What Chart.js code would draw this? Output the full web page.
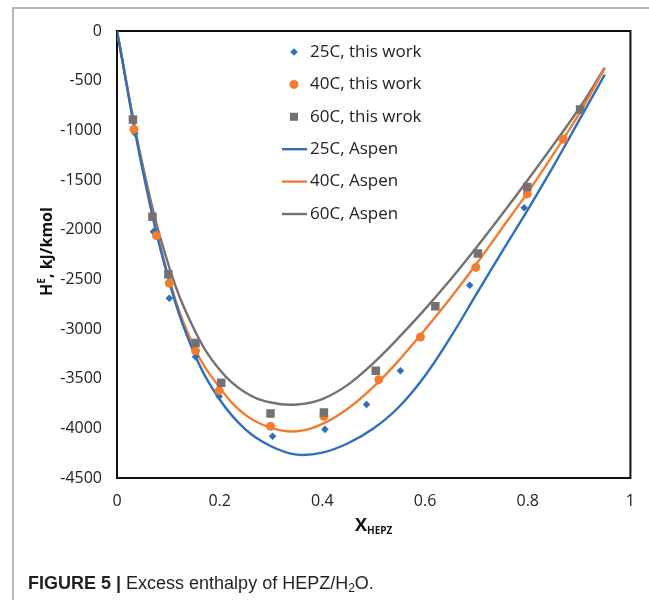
<!DOCTYPE html>
<html>
<head>
<meta charset="utf-8">
<style>
  html, body { margin: 0; padding: 0; background: #fff; }
  body { width: 649px; height: 600px; overflow: hidden; position: relative; }
  #wrap { position: absolute; left: 0; top: 0; width: 649px; height: 600px; }
  #caption { position: absolute; left: 28px; top: 573px; font-family: "Liberation Sans", Arial, sans-serif; font-size: 18px; color: #231f20; white-space: nowrap; }
  #caption b { font-weight: bold; }
  #caption sub { font-size: 12px; vertical-align: -3px; }
</style>
</head>
<body>
<div id="wrap"><canvas id="heChart" width="649" height="600"></canvas></div>
<div id="caption"><b>FIGURE 5 | </b>Excess enthalpy of HEPZ/H<sub>2</sub>O.</div>

<script src="https://cdn.jsdelivr.net/npm/chart.js"></script>
<script>
// measured points (this work)
var x25 = [0.035, 0.071, 0.102, 0.153, 0.199, 0.303, 0.405, 0.486, 0.552, 0.687, 0.793, 0.905];
var h25 = [-1030, -2020, -2690, -3280, -3680, -4080, -4010, -3760, -3420, -2560, -1780, -800];
var x40 = [0.033, 0.077, 0.102, 0.153, 0.199, 0.299, 0.403, 0.510, 0.591, 0.699, 0.799, 0.869];
var h40 = [-990, -2060, -2540, -3220, -3620, -3980, -3880, -3510, -3080, -2380, -1640, -1090];
var x60 = [0.031, 0.069, 0.100, 0.153, 0.203, 0.299, 0.403, 0.504, 0.620, 0.703, 0.799, 0.902];
var h60 = [-890, -1870, -2450, -3140, -3540, -3850, -3840, -3420, -2770, -2240, -1570, -790];

// Aspen curves
var xAspen = [0, 0.05, 0.1, 0.15, 0.2, 0.25, 0.3, 0.35, 0.4, 0.45, 0.5, 0.55, 0.6, 0.65, 0.7, 0.75, 0.8, 0.85, 0.9, 0.95];
var hAspen25 = [0, -1400, -2490, -3240, -3710, -4010, -4180, -4265, -4245, -4150, -4000, -3780, -3470, -3080, -2650, -2220, -1800, -1360, -900, -440];
var hAspen40 = [0, -1380, -2470, -3180, -3590, -3865, -3995, -4030, -3955, -3800, -3580, -3310, -3005, -2685, -2345, -1985, -1625, -1240, -835, -375];
var hAspen60 = [0, -1350, -2350, -3000, -3410, -3640, -3740, -3760, -3705, -3560, -3340, -3080, -2800, -2500, -2180, -1845, -1500, -1145, -780, -370];

var labels = ['25C, this work', '40C, this work', '60C, this wrok', '25C, Aspen', '40C, Aspen', '60C, Aspen'];
var xTicks = [0, 0.2, 0.4, 0.6, 0.8, 1];

var blue = '#2d6fba', orange = '#f27d30', gray = '#757171';

function pts(xs, ys) {
    return xs.map((x, i) => ({ x: x, y: ys[i] }));
}

var datasets = [
    { label: labels[0], data: pts(x25, h25), pointStyle: 'rectRot', pointRadius: 3.8, backgroundColor: blue, borderColor: blue, borderWidth: 0, showLine: false, order: 3 },
    { label: labels[1], data: pts(x40, h40), pointStyle: 'circle', pointRadius: 4.5, backgroundColor: orange, borderColor: orange, borderWidth: 0, showLine: false, order: 2 },
    { label: labels[2], data: pts(x60, h60), pointStyle: 'rect', pointRadius: 6, backgroundColor: gray, borderColor: gray, borderWidth: 0, showLine: false, order: 1 },
    { label: labels[3], data: pts(xAspen, hAspen25), showLine: true, pointRadius: 0, borderColor: blue, backgroundColor: blue, borderWidth: 2.4, tension: 0.4, order: 4 },
    { label: labels[4], data: pts(xAspen, hAspen40), showLine: true, pointRadius: 0, borderColor: orange, backgroundColor: orange, borderWidth: 2.4, tension: 0.4, order: 5 },
    { label: labels[5], data: pts(xAspen, hAspen60), showLine: true, pointRadius: 0, borderColor: gray, backgroundColor: gray, borderWidth: 2.4, tension: 0.4, order: 6 }
];

var tickFont = { family: 'Open Sans', size: 16 };

var decor = {
    id: 'decor',
    beforeDraw: function(chart) {
        // light page frame: left and top rule
        var ctx = chart.ctx;
        ctx.save();
        ctx.strokeStyle = '#b5b5b5';
        ctx.lineWidth = 2;
        ctx.beginPath();
        ctx.moveTo(13, 600);
        ctx.lineTo(13, 8);
        ctx.lineTo(649, 8);
        ctx.stroke();
        ctx.restore();
    },
    beforeDatasetsDraw: function(chart) {
        var ctx = chart.ctx, a = chart.chartArea;
        ctx.save();
        ctx.strokeStyle = '#111';
        ctx.lineWidth = 2;
        ctx.strokeRect(a.left, a.top, a.right - a.left, a.bottom - a.top);
        ctx.restore();
    },
    afterDraw: function(chart) {
        var ctx = chart.ctx, a = chart.chartArea;
        ctx.save();
        ctx.fillStyle = '#111';
        ctx.textBaseline = 'alphabetic';

        // x axis title: X with subscript HEPZ
        var cx = (a.left + a.right) / 2;
        ctx.font = 'bold 18px "Open Sans"';
        var w1 = ctx.measureText('X').width;
        ctx.font = 'bold 10px "Open Sans"';
        var w2 = ctx.measureText('HEPZ').width;
        var sx = cx - (w1 + w2) / 2;
        ctx.font = 'bold 18px "Open Sans"';
        ctx.fillText('X', sx, 531);
        ctx.font = 'bold 10px "Open Sans"';
        ctx.fillText('HEPZ', sx + w1, 534);

        // y axis title: H with superscript E
        ctx.translate(52, (a.top + a.bottom) / 2 - 3);
        ctx.rotate(-Math.PI / 2);
        ctx.font = 'bold 16px "Open Sans"';
        var t1 = ctx.measureText('H').width;
        var t3 = ctx.measureText(', kJ/kmol').width;
        ctx.font = 'bold 10px "Open Sans"';
        var t2 = ctx.measureText('E').width;
        var start = -(t1 + t2 + t3) / 2;
        ctx.font = 'bold 16px "Open Sans"';
        ctx.fillText('H', start, 0);
        ctx.font = 'bold 10px "Open Sans"';
        ctx.fillText('E', start + t1, -7);
        ctx.font = 'bold 16px "Open Sans"';
        ctx.fillText(', kJ/kmol', start + t1 + t2, 0);
        ctx.restore();

        // legend inside the plot
        ctx.save();
        ctx.font = '17px "Open Sans"';
        ctx.textBaseline = 'middle';
        chart.data.datasets.forEach(function(ds, i) {
            var y = 52 + i * 32.4;
            var mx = 294;
            ctx.fillStyle = ds.backgroundColor;
            ctx.strokeStyle = ds.borderColor;
            if (ds.showLine) {
                ctx.lineWidth = 2.4;
                ctx.beginPath();
                ctx.moveTo(282, y);
                ctx.lineTo(307, y);
                ctx.stroke();
            } else if (ds.pointStyle === 'circle') {
                ctx.beginPath();
                ctx.arc(mx, y, 4.5, 0, Math.PI * 2);
                ctx.fill();
            } else if (ds.pointStyle === 'rect') {
                ctx.fillRect(mx - 4, y - 4, 8, 8);
            } else {
                ctx.beginPath();
                ctx.moveTo(mx, y - 3.8);
                ctx.lineTo(mx + 3.8, y);
                ctx.lineTo(mx, y + 3.8);
                ctx.lineTo(mx - 3.8, y);
                ctx.closePath();
                ctx.fill();
            }
            ctx.fillStyle = '#222';
            ctx.fillText(ds.label, 310, y);
        });
        ctx.restore();
    }
};

new Chart(document.getElementById('heChart').getContext('2d'), {
    type: 'scatter',
    data: { datasets: datasets },
    options: {
        responsive: false,
        animation: false,
        layout: { padding: { left: 0, top: 31, right: 14, bottom: 0 } },
        plugins: {
            legend: { display: false },
            tooltip: { enabled: false }
        },
        scales: {
            x: {
                type: 'linear',
                min: 0,
                max: 1,
                afterBuildTicks: function(scale) {
                    scale.ticks = xTicks.map(v => ({ value: v }));
                },
                afterFit: function(scale) { scale.height = 600 - 478; },
                grid: { display: false, drawTicks: false },
                border: { display: false },
                ticks: {
                    padding: 14,
                    color: '#222',
                    font: tickFont,
                    callback: v => String(v)
                }
            },
            y: {
                type: 'linear',
                min: -4500,
                max: 0,
                afterFit: function(scale) { scale.width = 117; },
                grid: { display: false, drawTicks: false },
                border: { display: false },
                ticks: {
                    stepSize: 500,
                    padding: 15,
                    color: '#222',
                    font: tickFont,
                    callback: v => String(v)
                }
            }
        }
    },
    plugins: [decor]
});
</script>
</body>
</html>
